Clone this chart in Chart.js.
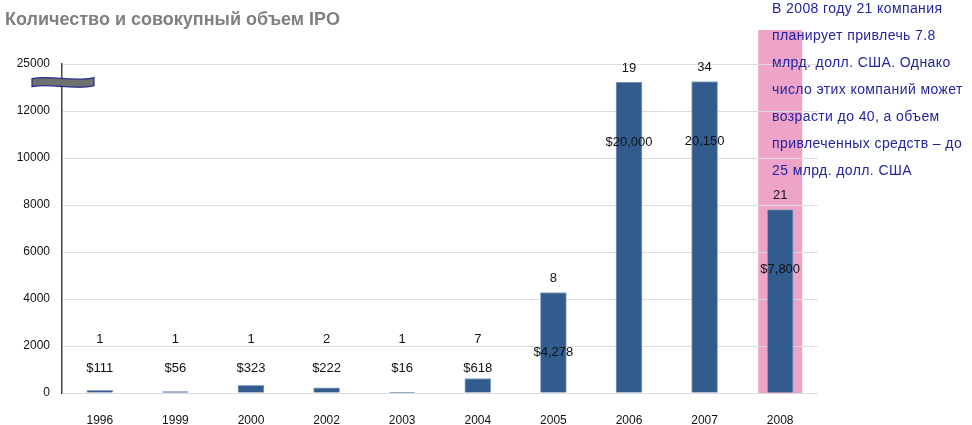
<!DOCTYPE html>
<html>
<head>
<meta charset="utf-8">
<script src="https://cdn.jsdelivr.net/npm/chart.js@4"></script>
<style>
  html, body { margin: 0; padding: 0; background: #fff; overflow: hidden; }
  #wrap { position: relative; width: 972px; height: 425px; }
  #ipoChart { display: block; }
  #title {
    position: absolute; left: 5px; top: 9px;
    font: bold 18px "Liberation Sans", Arial, sans-serif; color: #7f7f7f;
  }
  #note {
    position: absolute; left: 772px; top: -5px; width: 200px;
    font: 14px "Liberation Sans", Arial, sans-serif; color: #2424a0;
    line-height: 27px; white-space: nowrap; letter-spacing: 0.4px;
  }
</style>
</head>
<body>
<div id="wrap">
  <canvas id="ipoChart" width="972" height="425"></canvas>
  <div id="title">Количество и совокупный объем IPO</div>
  <div id="note">В 2008 году 21 компания<br>планирует привлечь 7.8<br>млрд. долл. США. Однако<br>число этих компаний может<br>возрасти до 40, а объем<br>привлеченных средств – до<br>25 млрд. долл. США</div>
</div>
<script>
// data
const years = ['1996', '1999', '2000', '2002', '2003', '2004', '2005', '2006', '2007', '2008'];
const volumes = [111, 56, 323, 222, 16, 618, 4278, 20000, 20150, 7800];   // млн долл.
const ipoCounts = [1, 1, 1, 2, 1, 7, 8, 19, 34, 21];
const volumeLabels = ['$111', '$56', '$323', '$222', '$16', '$618', '$4,278', '$20,000', '20,150', '$7,800'];
const yTickValues = [0, 2000, 4000, 6000, 8000, 10000, 12000, 25000];

// axis is broken above 12000: 12000..25000 squeezed into one 2000 step
const breakAt = 12000;
const breakTop = 25000;
function toAxis(v) {
    if (v <= breakAt) return v;
    return breakAt + (v - breakAt) * 2000 / (breakTop - breakAt);
}

const barColor = '#325b8e';

// pink highlight behind the 2008 column
const highlightPlugin = {
    id: 'highlight',
    beforeDraw(chart) {
        const ctx = chart.ctx;
        const x = chart.scales.x.getPixelForValue(9);
        const y0 = chart.scales.y.getPixelForValue(0);
        ctx.save();
        ctx.fillStyle = '#eea3c8';
        ctx.fillRect(x - 22, 30, 44, y0 - 30 + 1);
        ctx.restore();
    }
};

// counts and volumes written over the bars, plus the axis break mark
const labelsPlugin = {
    id: 'barLabels',
    afterDatasetsDraw(chart) {
        const ctx = chart.ctx;
        const xs = chart.scales.x, ys = chart.scales.y;
        ctx.save();
        ctx.fillStyle = '#111';
        ctx.textAlign = 'center';
        ctx.textBaseline = 'middle';
        ctx.font = '13px "Liberation Sans", Arial, sans-serif';
        volumes.forEach(function(v, i) {
            const x = xs.getPixelForValue(i);
            const top = ys.getPixelForValue(toAxis(v));
            let countY, volY;
            if (v < 1000) {
                countY = ys.getPixelForValue(2300);
                volY = ys.getPixelForValue(1050);
            } else {
                countY = top - 14;
                volY = top + 60;
            }
            ctx.fillText(String(ipoCounts[i]), x, countY);
            ctx.fillText(volumeLabels[i], x, volY);
        });

        // break symbol on the y axis
        const bx = chart.chartArea.left;
        const by = ys.getPixelForValue(13250);
        ctx.beginPath();
        ctx.moveTo(bx - 30, by - 3);
        ctx.bezierCurveTo(bx - 10, by - 7, bx + 10, by + 1, bx + 32, by - 4);
        ctx.lineTo(bx + 32, by + 4);
        ctx.bezierCurveTo(bx + 10, by + 9, bx - 10, by + 1, bx - 30, by + 5);
        ctx.closePath();
        ctx.fillStyle = '#707070';
        ctx.fill();
        ctx.strokeStyle = '#2a2a8c';
        ctx.lineWidth = 1.2;
        ctx.stroke();
        ctx.restore();
    }
};

new Chart('ipoChart', {
    type: 'bar',
    data: {
        labels: years,
        datasets: [{
            data: volumes.map(toAxis),
            backgroundColor: barColor,
            borderColor: '#8ea6c6',
            borderWidth: 1,
            barThickness: 26
        }]
    },
    options: {
        responsive: false,
        animation: false,
        layout: { padding: { top: 64, right: 154, bottom: 0, left: 0 } },
        plugins: {
            legend: { display: false },
            title: { display: false },
            tooltip: { enabled: false }
        },
        scales: {
            x: {
                grid: { display: false, drawTicks: false },
                border: { display: false },
                ticks: {
                    color: '#111',
                    padding: 20,
                    font: { family: '"Liberation Sans", Arial, sans-serif', size: 12 }
                },
                afterFit(scale) { scale.height = 32; }
            },
            y: {
                min: 0,
                max: toAxis(breakTop),
                afterBuildTicks(scale) {
                    scale.ticks = yTickValues.map(v => ({ value: toAxis(v) }));
                },
                ticks: {
                    color: '#111',
                    padding: 12,
                    font: { family: '"Liberation Sans", Arial, sans-serif', size: 12 },
                    callback: (val, idx) => String(yTickValues[idx])
                },
                grid: { color: '#dcdcdc', drawTicks: false },
                border: { color: '#444', width: 1.5 },
                afterFit(scale) { scale.width = 62; }
            }
        }
    },
    plugins: [highlightPlugin, labelsPlugin]
});
</script>
</body>
</html>
